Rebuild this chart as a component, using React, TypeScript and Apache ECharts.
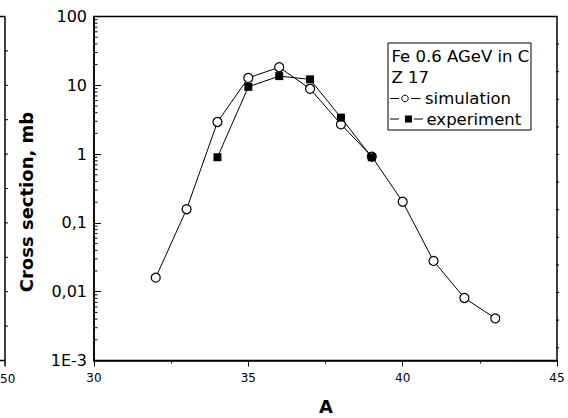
import React, { useEffect, useRef } from "react";
import * as echarts from "echarts";

const simA = [32, 33, 34, 35, 36, 37, 38, 39, 40, 41, 42, 43];
const simValues = [0.016, 0.158, 2.93, 12.8, 18.3, 8.9, 2.71, 0.92, 0.203, 0.028, 0.0081, 0.0041];
const expA = [34, 35, 36, 37, 38, 39];
const expValues = [0.9, 9.5, 13.6, 12.2, 3.39, 0.9];
const yTickLabels = ["1E-3", "0,01", "0,1", "1", "10", "100"];
const minorTickValues: number[] = [];
for (let e = -3; e <= 1; e++) {
  for (let m = 2; m <= 9; m++) minorTickValues.push(m * Math.pow(10, e));
}
const legendTitle = ["Fe 0.6 AGeV in C", "Z 17"];
const seriesNames = ["simulation", "experiment"];

const FONT = "DejaVu Sans";

export default function App() {
  const ref = useRef<HTMLDivElement>(null);
  useEffect(() => {
    if (!ref.current) return;
    const chart = echarts.init(ref.current, undefined, { renderer: "svg" });
    const gLeft = 94;
    const gTop = 16.5;
    const gRight = 557;
    const gBottom = 360.5;

    const deco: any[] = [
      { type: "line", shape: { x1: 5, y1: gTop, x2: 5, y2: gBottom + 6 }, style: { stroke: "#000", lineWidth: 1.5 } },
      { type: "line", shape: { x1: 0, y1: gTop, x2: 5, y2: gTop }, style: { stroke: "#000", lineWidth: 1.5 } },
      { type: "line", shape: { x1: 0, y1: gBottom, x2: 5, y2: gBottom }, style: { stroke: "#000", lineWidth: 1.5 } },
      { type: "text", x: 0, y: 379, style: { text: "50", font: `12px '${FONT}'`, fill: "#000", align: "left", verticalAlign: "middle" } },
    ];
    for (let k = 1; k <= 9; k++) {
      const y = gTop + ((gBottom - gTop) / 10) * k;
      deco.push({ type: "line", shape: { x1: 5, y1: y, x2: 8, y2: y }, style: { stroke: "#000", lineWidth: 1 } });
    }
    for (let k = 1; k <= 12; k++) {
      const y = gTop + 27.6 * k;
      deco.push({ type: "line", shape: { x1: gRight - 1, y1: y, x2: gRight + 2, y2: y }, style: { stroke: "#000", lineWidth: 1 } });
    }

    const fs = `16.5px '${FONT}'`;
    const legend: any[] = [
      { type: "rect", shape: { x: 388, y: 43, width: 143, height: 87 }, style: { fill: "#fff", stroke: "#000", lineWidth: 1 }, z: 10 },
      { type: "text", x: 391.5, y: 56, style: { text: legendTitle[0], font: fs, fill: "#000", verticalAlign: "middle" }, z: 11 },
      { type: "text", x: 391.5, y: 77, style: { text: legendTitle[1], font: fs, fill: "#000", verticalAlign: "middle" }, z: 11 },
      { type: "line", shape: { x1: 390, y1: 98.5, x2: 399, y2: 98.5 }, style: { stroke: "#000", lineWidth: 1 }, z: 11 },
      { type: "circle", shape: { cx: 405, cy: 98.5, r: 3.3 }, style: { fill: "#fff", stroke: "#000", lineWidth: 1 }, z: 12 },
      { type: "line", shape: { x1: 411, y1: 98.5, x2: 420.5, y2: 98.5 }, style: { stroke: "#000", lineWidth: 1 }, z: 11 },
      { type: "text", x: 425, y: 98.5, style: { text: seriesNames[0], font: fs, fill: "#000", verticalAlign: "middle" }, z: 11 },
      { type: "line", shape: { x1: 390, y1: 119, x2: 399, y2: 119 }, style: { stroke: "#000", lineWidth: 1 }, z: 11 },
      { type: "rect", shape: { x: 405, y: 115.5, width: 7, height: 7 }, style: { fill: "#000" }, z: 12 },
      { type: "line", shape: { x1: 414, y1: 119, x2: 423, y2: 119 }, style: { stroke: "#000", lineWidth: 1 }, z: 11 },
      { type: "text", x: 426.5, y: 119, style: { text: seriesNames[1], font: fs, fill: "#000", verticalAlign: "middle" }, z: 11 },
      {
        type: "text",
        x: 26,
        y: 202,
        rotation: Math.PI / 2,
        style: { text: "Cross section, mb", font: `bold 18px '${FONT}'`, fill: "#000", align: "center", verticalAlign: "middle" },
      },
      {
        type: "text",
        x: 326,
        y: 406,
        style: { text: "A", font: `bold 18px '${FONT}'`, fill: "#000", align: "center", verticalAlign: "middle" },
      },
    ];

    chart.setOption({
      animation: false,
      backgroundColor: "#fff",
      textStyle: { fontFamily: FONT },
      grid: {
        left: gLeft,
        top: gTop,
        width: gRight - gLeft,
        height: gBottom - gTop,
        show: true,
        borderColor: "#000",
        borderWidth: 1.5,
        backgroundColor: "transparent",
      },
      xAxis: {
        type: "value",
        min: 30,
        max: 45,
        interval: 5,
        axisLine: { show: true, lineStyle: { color: "#000", width: 1.5 } },
        axisTick: { show: true, inside: false, length: 6, lineStyle: { color: "#000", width: 1 } },
        minorTick: { show: true, splitNumber: 2, length: 3, lineStyle: { color: "#000", width: 1 } },
        splitLine: { show: false },
        axisLabel: { color: "#000", fontSize: 12, margin: 11, fontFamily: FONT },
      },
      yAxis: {
        type: "log",
        logBase: 10,
        min: 0.001,
        max: 100,
        axisLine: { show: true, lineStyle: { color: "#000", width: 1.5 } },
        axisTick: { show: true, inside: true, length: 7, lineStyle: { color: "#000", width: 1 } },
        splitLine: { show: false },
        axisLabel: {
          color: "#000",
          fontSize: 16,
          margin: 7,
          fontFamily: FONT,
          formatter: (v: number) => {
            const e = Math.round(Math.log10(v));
            return yTickLabels[e + 3] ?? "";
          },
        },
      },
      series: [
        {
          name: "minor",
          type: "custom",
          silent: true,
          clip: false,
          data: minorTickValues.map((v) => [30, v]),
          renderItem: (params: any, api: any) => {
            const p = api.coord([api.value(0), api.value(1)]);
            return {
              type: "line",
              shape: { x1: p[0], y1: p[1], x2: p[0] + 3.5, y2: p[1] },
              style: { stroke: "#000", lineWidth: 1 },
            };
          },
          z: 5,
        },
        {
          name: seriesNames[0],
          type: "line",
          data: simA.map((a, i) => [a, simValues[i]]),
          symbol: "circle",
          symbolSize: 9,
          lineStyle: { color: "#000", width: 1 },
          itemStyle: { color: "#fff", borderColor: "#000", borderWidth: 1.2 },
          z: 3,
        },
        {
          name: seriesNames[1],
          type: "line",
          data: expA.map((a, i) => [a, expValues[i]]),
          symbol: "rect",
          symbolSize: 8,
          lineStyle: { color: "#000", width: 1 },
          itemStyle: { color: "#000", borderColor: "#000", borderWidth: 0 },
          z: 4,
        },
      ],
      graphic: [...deco, ...legend],
    });
    return () => chart.dispose();
  }, []);
  return <div ref={ref} style={{ width: 568, height: 418, position: "absolute", left: 0, top: 0 }} />;
}
